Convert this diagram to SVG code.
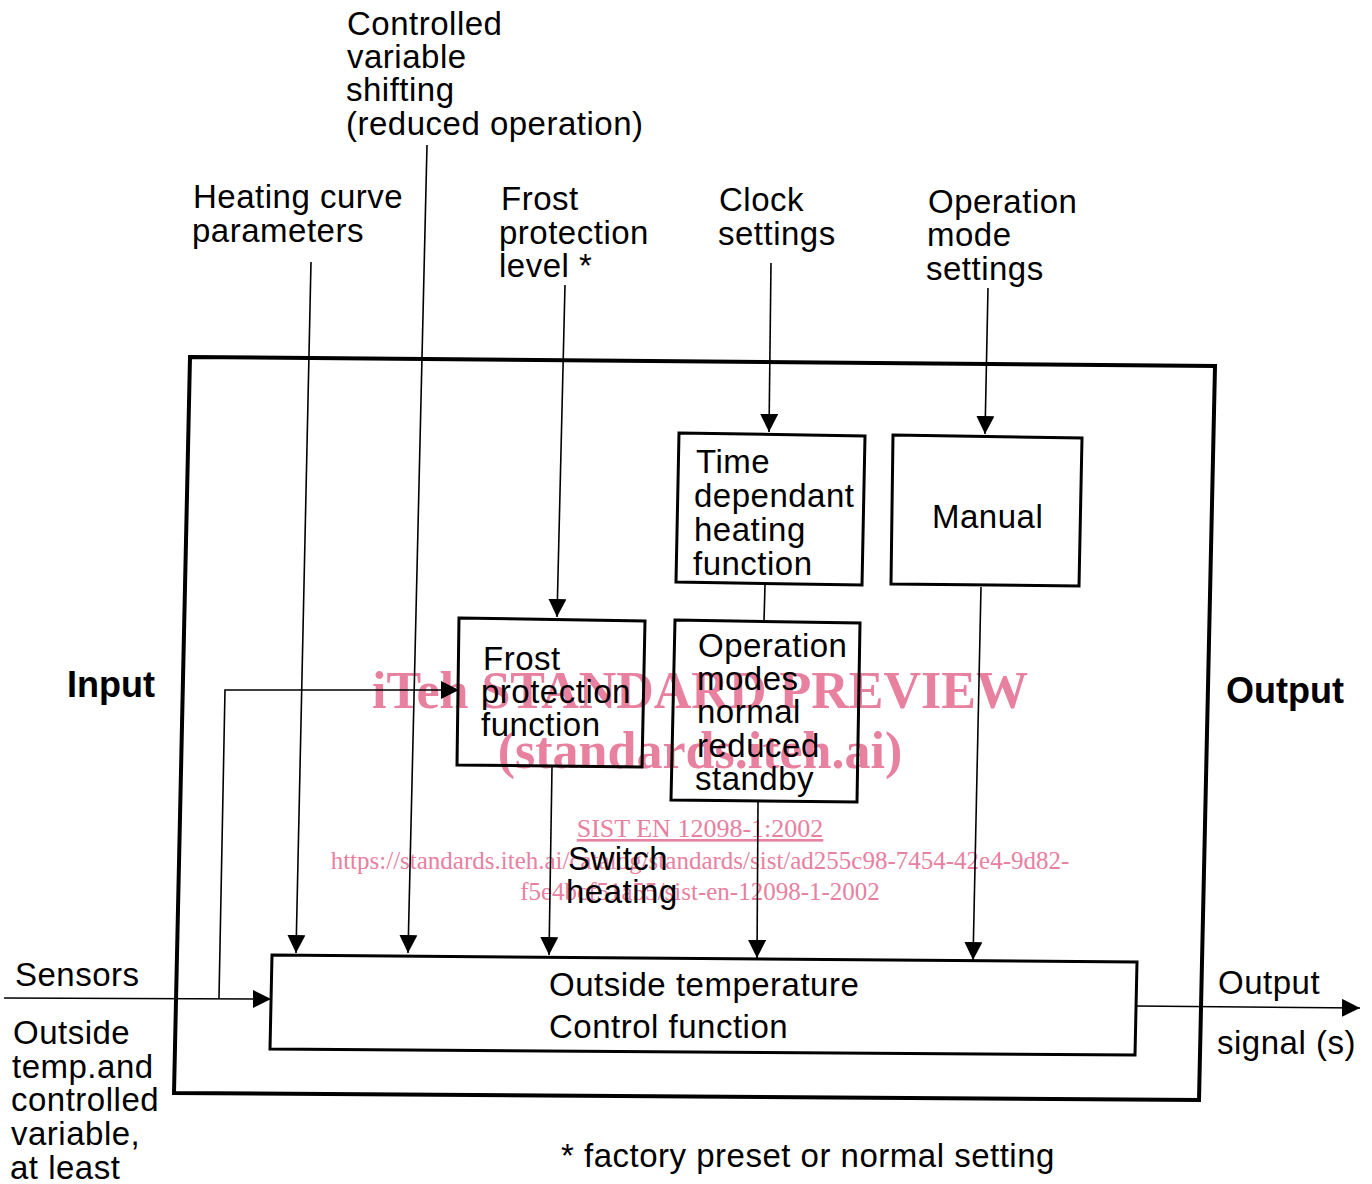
<svg xmlns="http://www.w3.org/2000/svg" width="1372" height="1184" viewBox="0 0 1372 1184">
<defs>
<style>
.t{font-family:"Liberation Sans",Arial,sans-serif;font-size:33px;letter-spacing:0.5px;fill:#000}
.b{font-family:"Liberation Sans",Arial,sans-serif;font-size:36px;font-weight:bold;fill:#000}
.box{fill:none;stroke:#000;stroke-width:3}
.ln{fill:none;stroke:#000;stroke-width:1.6}
.wm{font-family:"Liberation Serif","Times New Roman",serif;fill:#e8809f}
</style>
<marker id="ah" viewBox="0 0 10 10" refX="10" refY="5" markerWidth="18" markerHeight="18" markerUnits="userSpaceOnUse" orient="auto">
<path d="M0,0 L10,5 L0,10 Z" fill="#000"/>
</marker>
</defs>
<rect width="1372" height="1184" fill="#fff"/>

<g id="watermark">
<text class="wm" x="700" y="708" text-anchor="middle" font-size="52" font-weight="bold">iTeh STANDARD PREVIEW</text>
<text class="wm" x="700" y="768" text-anchor="middle" font-size="52" font-weight="bold">(standards.iteh.ai)</text>
<text class="wm" x="700" y="837" text-anchor="middle" font-size="26" text-decoration="underline">SIST EN 12098-1:2002</text>
<text class="wm" x="700" y="869" text-anchor="middle" font-size="25">https://standards.iteh.ai/catalog/standards/sist/ad255c98-7454-42e4-9d82-</text>
<text class="wm" x="700" y="900" text-anchor="middle" font-size="25">f5e4bcf51a55/sist-en-12098-1-2002</text>
</g>

<g id="outer">
<polygon points="190,357 1215,366 1199,1100 174,1093" fill="none" stroke="#000" stroke-width="4"/>
</g>

<g id="connectors">
<line class="ln" x1="311" y1="262" x2="296" y2="953" marker-end="url(#ah)"/>
<line class="ln" x1="427" y1="145" x2="408" y2="953" marker-end="url(#ah)"/>
<line class="ln" x1="565" y1="285" x2="557" y2="617" marker-end="url(#ah)"/>
<line class="ln" x1="771" y1="263" x2="769" y2="432" marker-end="url(#ah)"/>
<line class="ln" x1="988" y1="288" x2="985" y2="434" marker-end="url(#ah)"/>
<line class="ln" x1="552" y1="767" x2="549" y2="955" marker-end="url(#ah)"/>
<line class="ln" x1="765" y1="585" x2="764" y2="621"/>
<line class="ln" x1="758" y1="802" x2="757" y2="958" marker-end="url(#ah)"/>
<line class="ln" x1="981" y1="587" x2="973" y2="960" marker-end="url(#ah)"/>
<line class="ln" x1="4" y1="998" x2="271" y2="999" stroke-width="2" marker-end="url(#ah)"/>
<polyline class="ln" points="219,998 225,690 459,690" stroke-width="2" marker-end="url(#ah)"/>
<line class="ln" x1="1137" y1="1006" x2="1360" y2="1008" stroke-width="2" marker-end="url(#ah)"/>
</g>

<g id="control">
<polygon class="box" points="272,955 1137,962 1135,1055 270,1049"/>
<text class="t" x="549" y="996">Outside temperature</text>
<text class="t" x="549" y="1038">Control function</text>
</g>

<g id="frost">
<polygon class="box" points="459,618 645,621 642,767 457,765"/>
<text class="t" x="483" y="670">Frost</text>
<text class="t" x="481" y="703">protection</text>
<text class="t" x="481" y="736">function</text>
</g>

<g id="opmodes">
<polygon class="box" points="675,620 860,623 857,802 671,800"/>
<text class="t" x="698" y="657">Operation</text>
<text class="t" x="697" y="690">modes</text>
<text class="t" x="697" y="723">normal</text>
<text class="t" x="697" y="757">reduced</text>
<text class="t" x="695" y="790">standby</text>
</g>

<g id="timedep">
<polygon class="box" points="679,433 865,436 862,585 676,582"/>
<text class="t" x="696" y="473">Time</text>
<text class="t" x="694" y="507">dependant</text>
<text class="t" x="694" y="541">heating</text>
<text class="t" x="693" y="575">function</text>
</g>

<g id="manual">
<polygon class="box" points="893,435 1082,438 1079,586 891,584"/>
<text class="t" x="932" y="528">Manual</text>
</g>

<g id="labels">
<text class="t" x="347" y="35">Controlled</text>
<text class="t" x="347" y="68">variable</text>
<text class="t" x="346" y="101">shifting</text>
<text class="t" x="346" y="135">(reduced operation)</text>
<text class="t" x="193" y="208">Heating curve</text>
<text class="t" x="192" y="242">parameters</text>
<text class="t" x="501" y="210">Frost</text>
<text class="t" x="499" y="244">protection</text>
<text class="t" x="499" y="277">level *</text>
<text class="t" x="719" y="211">Clock</text>
<text class="t" x="718" y="245">settings</text>
<text class="t" x="928" y="213">Operation</text>
<text class="t" x="927" y="246">mode</text>
<text class="t" x="926" y="280">settings</text>
<text class="b" x="67" y="697" font-size="37">Input</text>
<text class="b" x="1226" y="703">Output</text>
<text class="t" x="568" y="870">Switch</text>
<text class="t" x="566" y="903">heating</text>
<text class="t" x="15" y="986">Sensors</text>
<text class="t" x="13" y="1044">Outside</text>
<text class="t" x="12" y="1078">temp.and</text>
<text class="t" x="11" y="1111">controlled</text>
<text class="t" x="11" y="1145">variable,</text>
<text class="t" x="10" y="1179">at least</text>
<text class="t" x="1218" y="994">Output</text>
<text class="t" x="1217" y="1054">signal (s)</text>
<text class="t" x="561" y="1167">* factory preset or normal setting</text>
</g>
</svg>
